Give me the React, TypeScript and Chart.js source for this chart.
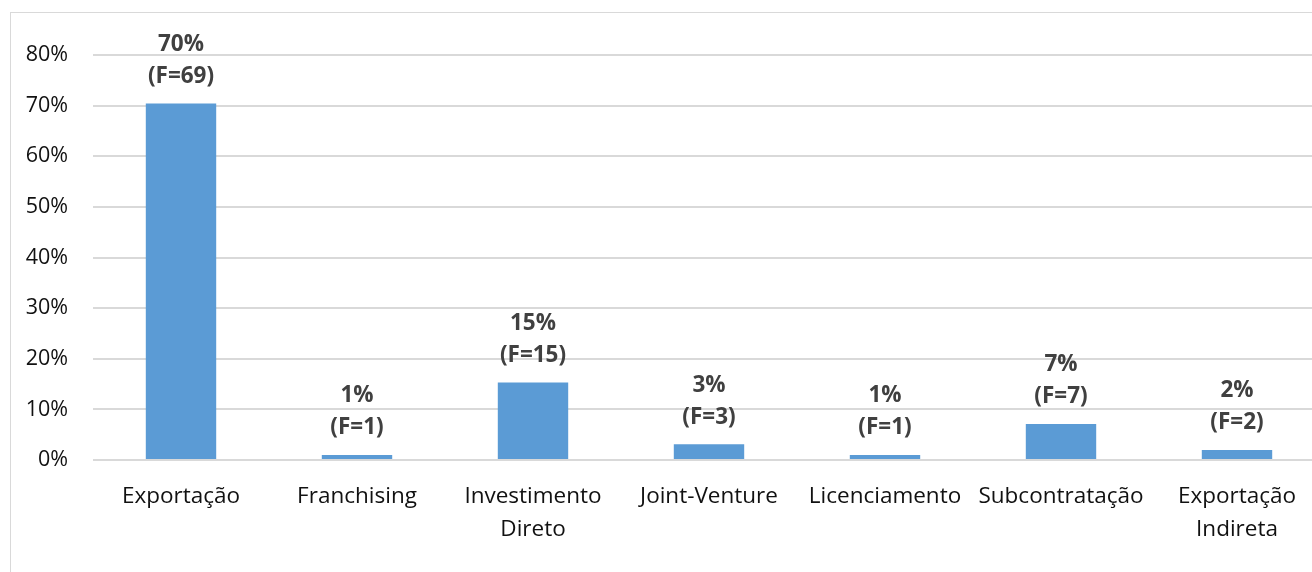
import React, { useEffect, useRef } from "react";
import { Chart, registerables } from "chart.js";

Chart.register(...registerables);

const categories: (string | string[])[] = [
  "Exportação",
  "Franchising",
  ["Investimento", "Direto"],
  "Joint-Venture",
  "Licenciamento",
  "Subcontratação",
  ["Exportação", "Indireta"],
];
const percentValues = [70.4, 1.0, 15.3, 3.1, 1.0, 7.1, 2.0];
const percentLabels = ["70%", "1%", "15%", "3%", "1%", "7%", "2%"];
const frequencies = [69, 1, 15, 3, 1, 7, 2];
const yTicks = [0, 10, 20, 30, 40, 50, 60, 70, 80];

const FONT = "'Open Sans', 'Noto Sans', sans-serif";

const labelPlugin = {
  id: "barLabels",
  afterDatasetsDraw(chart: any) {
    const ctx = chart.ctx;
    const meta = chart.getDatasetMeta(0);
    ctx.save();
    ctx.font = `bold 22.5px ${FONT}`;
    ctx.fillStyle = "#404040";
    ctx.textAlign = "center";
    ctx.textBaseline = "middle";
    meta.data.forEach((bar: any, i: number) => {
      ctx.fillText(percentLabels[i], bar.x, bar.y - 59);
      ctx.fillText(`(F=${frequencies[i]})`, bar.x, bar.y - 27);
    });
    ctx.restore();
  },
};

export default function App() {
  const ref = useRef<HTMLCanvasElement | null>(null);
  useEffect(() => {
    if (!ref.current) return;
    const chart = new Chart(ref.current, {
      type: "bar",
      data: {
        labels: categories,
        datasets: [
          {
            data: percentValues,
            backgroundColor: "#5B9BD5",
            barPercentage: 0.4,
            categoryPercentage: 1,
          },
        ],
      },
      options: {
        responsive: false,
        animation: false,
        layout: { padding: { top: 55, left: 0, right: 5, bottom: 0 } },
        plugins: { legend: { display: false }, tooltip: { enabled: false } },
        scales: {
          x: {
            grid: { display: false, drawTicks: false },
            border: { display: false },
            ticks: {
              color: "#111",
              font: { family: FONT, size: 22.5, lineHeight: 1.47 },
              padding: 20,
              maxRotation: 0,
              autoSkip: false,
            },
            afterFit(scale: any) {
              scale.height = 112;
            },
          },
          y: {
            min: 0,
            max: 80,
            afterBuildTicks(scale: any) {
              scale.ticks = yTicks.map((v) => ({ value: v }));
            },
            grid: { color: "#d9d9d9", lineWidth: 2, drawTicks: false },
            border: { display: false },
            ticks: {
              color: "#111",
              font: { family: FONT, size: 21.5 },
              padding: 25,
              callback: (v: any) => `${v}%`,
            },
            afterFit(scale: any) {
              scale.width = 93;
            },
          },
        },
      },
      plugins: [labelPlugin],
    });
    return () => chart.destroy();
  }, []);

  return (
    <div
      style={{
        position: "fixed",
        left: 0,
        top: 0,
        width: 1312,
        height: 572,
        overflow: "hidden",
        background: "#fff",
      }}
    >
      <div
        style={{
          position: "absolute",
          left: 10,
          top: 12,
          width: 1400,
          height: 700,
          border: "1px solid #d9d9d9",
        }}
      />
      <canvas
        ref={ref}
        width={1330}
        height={572}
        style={{ position: "absolute", left: 0, top: 0, width: 1330, height: 572 }}
      />
    </div>
  );
}
